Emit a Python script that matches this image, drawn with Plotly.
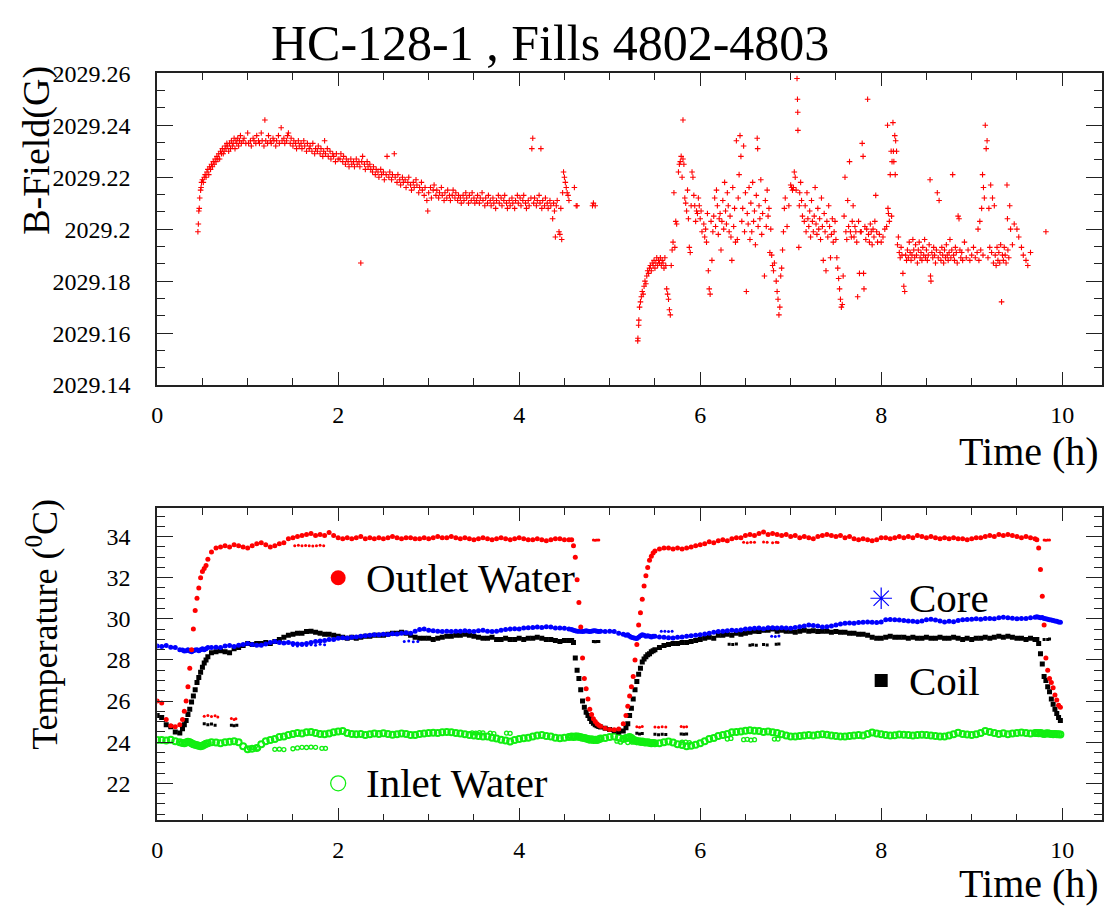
import plotly.graph_objects as go

# ---------------- B-field data (time in h, field in G) ----------------
bfield_samples = [
    (0.45, 2029.199), (0.455, 2029.202), (0.46, 2029.207), (0.465, 2029.208), (0.47, 2029.212),
    (0.48, 2029.215), (0.485, 2029.216), (0.49, 2029.218), (0.50, 2029.219), (0.51, 2029.218),
    (0.52, 2029.220), (0.53, 2029.221), (0.54, 2029.220), (0.55, 2029.222), (0.56, 2029.223),
    (0.57, 2029.221), (0.58, 2029.224), (0.59, 2029.223), (0.60, 2029.225), (0.61, 2029.224),
    (0.62, 2029.226), (0.63, 2029.225), (0.64, 2029.227), (0.65, 2029.226), (0.66, 2029.228),
    (0.67, 2029.227), (0.68, 2029.229), (0.69, 2029.227), (0.70, 2029.230), (0.71, 2029.229),
    (0.72, 2029.231), (0.73, 2029.229), (0.74, 2029.230), (0.75, 2029.232), (0.76, 2029.231),
    (0.77, 2029.233), (0.78, 2029.232), (0.79, 2029.230), (0.80, 2029.233), (0.81, 2029.231),
    (0.82, 2029.234), (0.83, 2029.232), (0.84, 2029.233), (0.85, 2029.235), (0.86, 2029.231),
    (0.87, 2029.234), (0.88, 2029.233), (0.89, 2029.235), (0.90, 2029.232), (0.91, 2029.234),
    (0.92, 2029.236), (0.93, 2029.233), (0.95, 2029.234), (0.96, 2029.235), (0.98, 2029.233),
    (1.00, 2029.237), (1.01, 2029.233), (1.03, 2029.234), (1.04, 2029.232), (1.06, 2029.235),
    (1.07, 2029.234), (1.09, 2029.233), (1.10, 2029.236), (1.12, 2029.234), (1.13, 2029.233),
    (1.15, 2029.237), (1.16, 2029.234), (1.18, 2029.232), (1.19, 2029.242), (1.20, 2029.234),
    (1.22, 2029.233), (1.23, 2029.236), (1.25, 2029.234), (1.26, 2029.233), (1.28, 2029.235),
    (1.29, 2029.234), (1.31, 2029.232), (1.32, 2029.234), (1.34, 2029.236), (1.35, 2029.233),
    (1.37, 2029.239), (1.38, 2029.234), (1.40, 2029.235), (1.41, 2029.233), (1.43, 2029.234),
    (1.44, 2029.236), (1.45, 2029.237), (1.47, 2029.233), (1.48, 2029.235), (1.50, 2029.232),
    (1.51, 2029.234), (1.53, 2029.233), (1.54, 2029.231), (1.56, 2029.234), (1.57, 2029.232),
    (1.59, 2029.233), (1.60, 2029.231), (1.62, 2029.234), (1.63, 2029.232), (1.65, 2029.230),
    (1.66, 2029.233), (1.68, 2029.231), (1.69, 2029.232), (1.71, 2029.230), (1.72, 2029.233),
    (1.74, 2029.229), (1.75, 2029.231), (1.77, 2029.230), (1.78, 2029.232), (1.80, 2029.229),
    (1.81, 2029.231), (1.83, 2029.228), (1.84, 2029.230), (1.85, 2029.234), (1.86, 2029.229),
    (1.88, 2029.231), (1.89, 2029.228), (1.91, 2029.230), (1.92, 2029.227), (1.94, 2029.229),
    (1.95, 2029.228), (1.97, 2029.226), (1.98, 2029.229), (2.00, 2029.227), (2.02, 2029.227),
    (2.03, 2029.229), (2.05, 2029.226), (2.06, 2029.228), (2.08, 2029.225), (2.09, 2029.227),
    (2.11, 2029.226), (2.12, 2029.224), (2.14, 2029.227), (2.15, 2029.225), (2.17, 2029.226),
    (2.18, 2029.224), (2.20, 2029.227), (2.21, 2029.225), (2.23, 2029.226), (2.24, 2029.224),
    (2.25, 2029.187), (2.26, 2029.226), (2.27, 2029.228), (2.29, 2029.225), (2.30, 2029.223),
    (2.32, 2029.226), (2.33, 2029.224), (2.35, 2029.225), (2.36, 2029.223), (2.38, 2029.222),
    (2.39, 2029.224), (2.41, 2029.221), (2.42, 2029.223), (2.44, 2029.222), (2.45, 2029.220),
    (2.47, 2029.223), (2.48, 2029.221), (2.50, 2029.222), (2.51, 2029.219), (2.53, 2029.221),
    (2.54, 2029.228), (2.56, 2029.220), (2.57, 2029.222), (2.59, 2029.219), (2.60, 2029.221),
    (2.62, 2029.229), (2.63, 2029.220), (2.65, 2029.218), (2.66, 2029.221), (2.68, 2029.219),
    (2.69, 2029.217), (2.71, 2029.220), (2.72, 2029.218), (2.74, 2029.219), (2.75, 2029.216),
    (2.77, 2029.218), (2.78, 2029.220), (2.80, 2029.217), (2.81, 2029.215), (2.83, 2029.218),
    (2.84, 2029.216), (2.86, 2029.219), (2.87, 2029.217), (2.89, 2029.214), (2.90, 2029.216),
    (2.92, 2029.218), (2.93, 2029.215), (2.95, 2029.213), (2.96, 2029.216), (2.98, 2029.211),
    (2.99, 2029.207), (3.00, 2029.214), (3.02, 2029.216), (3.03, 2029.212), (3.05, 2029.215),
    (3.06, 2029.217), (3.08, 2029.213), (3.09, 2029.215), (3.11, 2029.212), (3.12, 2029.214),
    (3.14, 2029.216), (3.15, 2029.213), (3.17, 2029.211), (3.18, 2029.214), (3.20, 2029.212),
    (3.21, 2029.215), (3.23, 2029.213), (3.24, 2029.211), (3.26, 2029.213), (3.27, 2029.215),
    (3.29, 2029.212), (3.30, 2029.214), (3.32, 2029.211), (3.33, 2029.213), (3.35, 2029.212),
    (3.36, 2029.210), (3.38, 2029.213), (3.39, 2029.211), (3.41, 2029.214), (3.42, 2029.212),
    (3.44, 2029.210), (3.45, 2029.213), (3.47, 2029.211), (3.48, 2029.214), (3.50, 2029.212),
    (3.51, 2029.210), (3.53, 2029.211), (3.54, 2029.213), (3.56, 2029.210), (3.57, 2029.212),
    (3.59, 2029.214), (3.60, 2029.211), (3.62, 2029.209), (3.63, 2029.212), (3.65, 2029.210),
    (3.66, 2029.213), (3.68, 2029.211), (3.69, 2029.209), (3.71, 2029.212), (3.72, 2029.210),
    (3.74, 2029.208), (3.75, 2029.211), (3.77, 2029.213), (3.78, 2029.210), (3.80, 2029.212),
    (3.81, 2029.209), (3.83, 2029.211), (3.84, 2029.213), (3.86, 2029.210), (3.87, 2029.208),
    (3.89, 2029.211), (3.90, 2029.209), (3.92, 2029.212), (3.93, 2029.210), (3.95, 2029.208),
    (3.96, 2029.211), (3.98, 2029.213), (3.99, 2029.210), (4.01, 2029.212), (4.02, 2029.209),
    (4.04, 2029.211), (4.05, 2029.213), (4.07, 2029.210), (4.08, 2029.208), (4.10, 2029.211),
    (4.11, 2029.209), (4.13, 2029.212), (4.14, 2029.231), (4.15, 2029.235), (4.16, 2029.210),
    (4.17, 2029.212), (4.19, 2029.209), (4.20, 2029.211), (4.22, 2029.213), (4.23, 2029.210),
    (4.24, 2029.231), (4.25, 2029.208), (4.26, 2029.211), (4.28, 2029.209), (4.29, 2029.212),
    (4.31, 2029.210), (4.32, 2029.208), (4.34, 2029.211), (4.35, 2029.209), (4.37, 2029.204),
    (4.38, 2029.210), (4.39, 2029.207), (4.40, 2029.197), (4.41, 2029.209), (4.42, 2029.211),
    (4.44, 2029.199), (4.45, 2029.198), (4.46, 2029.208), (4.47, 2029.196), (4.48, 2029.214),
    (4.49, 2029.222), (4.50, 2029.220), (4.51, 2029.218), (4.52, 2029.216), (4.53, 2029.214),
    (4.54, 2029.213), (4.55, 2029.211), (4.61, 2029.216), (4.63, 2029.209), (4.64, 2029.209),
    (4.81, 2029.209), (4.82, 2029.210), (4.84, 2029.209),
    (5.31, 2029.157), (5.312, 2029.158), (5.32, 2029.163), (5.322, 2029.165), (5.33, 2029.170),
    (5.34, 2029.172), (5.35, 2029.174), (5.36, 2029.176), (5.37, 2029.175), (5.38, 2029.178),
    (5.39, 2029.180), (5.40, 2029.179), (5.41, 2029.182), (5.42, 2029.184), (5.43, 2029.183),
    (5.44, 2029.185), (5.45, 2029.186), (5.46, 2029.184), (5.47, 2029.187), (5.48, 2029.186),
    (5.49, 2029.188), (5.50, 2029.185), (5.51, 2029.187), (5.52, 2029.189), (5.53, 2029.186),
    (5.54, 2029.188), (5.55, 2029.187), (5.56, 2029.189), (5.57, 2029.186), (5.58, 2029.188),
    (5.59, 2029.187), (5.60, 2029.185), (5.61, 2029.189), (5.62, 2029.186), (5.63, 2029.177),
    (5.64, 2029.175), (5.65, 2029.173), (5.66, 2029.169), (5.67, 2029.167), (5.68, 2029.186),
    (5.69, 2029.192), (5.70, 2029.195), (5.71, 2029.214), (5.72, 2029.193), (5.73, 2029.203),
    (5.74, 2029.202), (5.76, 2029.222), (5.77, 2029.225), (5.78, 2029.226), (5.79, 2029.228),
    (5.80, 2029.220), (5.81, 2029.242), (5.81, 2029.227), (5.82, 2029.225), (5.83, 2029.212),
    (5.84, 2029.210), (5.85, 2029.207), (5.86, 2029.215), (5.87, 2029.204), (5.88, 2029.193),
    (5.89, 2029.191), (5.90, 2029.209), (5.91, 2029.222), (5.92, 2029.220), (5.93, 2029.213),
    (5.94, 2029.209), (5.95, 2029.203), (5.96, 2029.207), (5.97, 2029.206), (5.98, 2029.212),
    (5.99, 2029.209),
    (6.00, 2029.204), (6.01, 2029.207), (6.02, 2029.199), (6.04, 2029.202), (6.05, 2029.197),
    (6.06, 2029.200), (6.07, 2029.195), (6.08, 2029.206), (6.09, 2029.184), (6.10, 2029.177),
    (6.11, 2029.175), (6.12, 2029.203), (6.13, 2029.188), (6.14, 2029.199), (6.15, 2029.205),
    (6.16, 2029.212), (6.17, 2029.201), (6.18, 2029.215), (6.19, 2029.209), (6.20, 2029.198),
    (6.21, 2029.204), (6.22, 2029.206), (6.23, 2029.192), (6.24, 2029.203), (6.25, 2029.211),
    (6.26, 2029.200), (6.27, 2029.218), (6.28, 2029.207), (6.29, 2029.202), (6.30, 2029.214),
    (6.31, 2029.209), (6.32, 2029.199), (6.33, 2029.205), (6.34, 2029.197), (6.35, 2029.188),
    (6.36, 2029.216), (6.37, 2029.201), (6.38, 2029.208), (6.39, 2029.195), (6.40, 2029.234),
    (6.41, 2029.196), (6.42, 2029.212), (6.43, 2029.221), (6.44, 2029.236), (6.45, 2029.228),
    (6.46, 2029.203), (6.47, 2029.208), (6.48, 2029.232), (6.49, 2029.199), (6.50, 2029.214),
    (6.51, 2029.176), (6.52, 2029.206), (6.53, 2029.202), (6.54, 2029.216), (6.55, 2029.196),
    (6.56, 2029.210), (6.57, 2029.199), (6.58, 2029.218), (6.59, 2029.203), (6.60, 2029.207),
    (6.61, 2029.194), (6.62, 2029.213), (6.63, 2029.235), (6.635, 2029.231), (6.64, 2029.201),
    (6.65, 2029.209), (6.66, 2029.204), (6.67, 2029.219), (6.68, 2029.198), (6.69, 2029.206),
    (6.71, 2029.182), (6.72, 2029.211), (6.73, 2029.201), (6.74, 2029.215), (6.75, 2029.205),
    (6.76, 2029.208), (6.77, 2029.191), (6.78, 2029.200), (6.79, 2029.190), (6.80, 2029.186),
    (6.81, 2029.184), (6.82, 2029.187), (6.84, 2029.180), (6.85, 2029.176), (6.86, 2029.173),
    (6.87, 2029.167), (6.88, 2029.170), (6.89, 2029.182), (6.90, 2029.185), (6.91, 2029.192),
    (6.92, 2029.199), (6.93, 2029.208), (6.94, 2029.212), (6.96, 2029.201), (6.98, 2029.209),
    (7.00, 2029.217), (7.01, 2029.216), (7.02, 2029.215), (7.03, 2029.216), (7.04, 2029.222),
    (7.05, 2029.220), (7.06, 2029.215), (7.07, 2029.258), (7.075, 2029.250), (7.078, 2029.245),
    (7.08, 2029.238), (7.09, 2029.193), (7.095, 2029.209), (7.10, 2029.214), (7.11, 2029.218),
    (7.12, 2029.211), (7.13, 2029.205), (7.15, 2029.203), (7.16, 2029.209), (7.17, 2029.199),
    (7.18, 2029.214), (7.19, 2029.204), (7.20, 2029.201), (7.21, 2029.207), (7.22, 2029.197),
    (7.23, 2029.211), (7.24, 2029.203), (7.25, 2029.199), (7.26, 2029.205), (7.27, 2029.216),
    (7.28, 2029.202), (7.29, 2029.198), (7.30, 2029.208), (7.31, 2029.200), (7.32, 2029.204),
    (7.33, 2029.196), (7.34, 2029.212), (7.35, 2029.201), (7.36, 2029.188), (7.37, 2029.206),
    (7.38, 2029.199), (7.39, 2029.184), (7.40, 2029.203), (7.41, 2029.197), (7.42, 2029.209),
    (7.43, 2029.201), (7.44, 2029.189), (7.45, 2029.198), (7.46, 2029.204), (7.47, 2029.195),
    (7.48, 2029.199), (7.49, 2029.203), (7.50, 2029.196), (7.51, 2029.189), (7.52, 2029.185),
    (7.53, 2029.181), (7.54, 2029.177), (7.55, 2029.173), (7.56, 2029.170), (7.57, 2029.171),
    (7.58, 2029.182), (7.59, 2029.205), (7.60, 2029.220), (7.61, 2029.199), (7.62, 2029.196),
    (7.63, 2029.211), (7.64, 2029.201), (7.65, 2029.226), (7.66, 2029.199), (7.67, 2029.197),
    (7.68, 2029.203), (7.69, 2029.209), (7.70, 2029.197), (7.71, 2029.201), (7.72, 2029.199),
    (7.73, 2029.195), (7.74, 2029.174), (7.75, 2029.203), (7.76, 2029.183), (7.77, 2029.199),
    (7.78, 2029.199), (7.79, 2029.233), (7.80, 2029.228), (7.805, 2029.183), (7.81, 2029.177),
    (7.82, 2029.201), (7.83, 2029.196), (7.84, 2029.200), (7.85, 2029.250), (7.86, 2029.198),
    (7.87, 2029.195), (7.88, 2029.202), (7.89, 2029.199), (7.90, 2029.194), (7.91, 2029.200),
    (7.92, 2029.197), (7.93, 2029.203), (7.94, 2029.213), (7.95, 2029.199), (7.96, 2029.195),
    (7.98, 2029.198), (8.00, 2029.195), (8.02, 2029.197), (8.04, 2029.200), (8.06, 2029.201),
    (8.07, 2029.240), (8.075, 2029.208), (8.08, 2029.206), (8.09, 2029.203), (8.10, 2029.221),
    (8.11, 2029.230), (8.115, 2029.205), (8.12, 2029.226), (8.13, 2029.241), (8.135, 2029.230),
    (8.14, 2029.226), (8.15, 2029.236), (8.155, 2029.221), (8.16, 2029.234), (8.17, 2029.230),
    (8.18, 2029.194), (8.19, 2029.197), (8.20, 2029.191), (8.21, 2029.189), (8.22, 2029.193),
    (8.23, 2029.190), (8.24, 2029.183), (8.25, 2029.178), (8.26, 2029.176), (8.27, 2029.190),
    (8.28, 2029.188), (8.29, 2029.192), (8.30, 2029.189), (8.31, 2029.195), (8.32, 2029.191),
    (8.33, 2029.188), (8.34, 2029.190), (8.35, 2029.196), (8.36, 2029.192), (8.37, 2029.189),
    (8.38, 2029.194), (8.39, 2029.190), (8.40, 2029.187), (8.41, 2029.192), (8.42, 2029.195),
    (8.43, 2029.189), (8.44, 2029.191), (8.45, 2029.188), (8.46, 2029.193), (8.47, 2029.190),
    (8.48, 2029.196), (8.49, 2029.189), (8.50, 2029.192), (8.51, 2029.188), (8.52, 2029.190),
    (8.53, 2029.194), (8.54, 2029.219), (8.545, 2029.182), (8.55, 2029.180), (8.56, 2029.191),
    (8.57, 2029.189), (8.58, 2029.193), (8.59, 2029.190), (8.60, 2029.187), (8.61, 2029.192),
    (8.62, 2029.214), (8.63, 2029.189), (8.64, 2029.211), (8.65, 2029.191), (8.66, 2029.188),
    (8.67, 2029.193), (8.68, 2029.190), (8.69, 2029.187), (8.70, 2029.192), (8.71, 2029.189),
    (8.72, 2029.194), (8.73, 2029.190), (8.74, 2029.188), (8.75, 2029.191), (8.76, 2029.196),
    (8.77, 2029.189), (8.78, 2029.192), (8.79, 2029.221), (8.80, 2029.190), (8.81, 2029.188),
    (8.82, 2029.193), (8.83, 2029.191), (8.84, 2029.187), (8.85, 2029.205), (8.86, 2029.204),
    (8.87, 2029.192), (8.88, 2029.189), (8.89, 2029.191), (8.90, 2029.188), (8.92, 2029.195),
    (8.94, 2029.189), (8.96, 2029.192), (8.98, 2029.188), (9.00, 2029.190), (9.02, 2029.193),
    (9.04, 2029.189), (9.06, 2029.191), (9.07, 2029.200), (9.08, 2029.188), (9.09, 2029.203),
    (9.10, 2029.192), (9.11, 2029.208), (9.12, 2029.221), (9.125, 2029.190), (9.13, 2029.216),
    (9.14, 2029.212), (9.15, 2029.240), (9.16, 2029.231), (9.17, 2029.234), (9.18, 2029.189),
    (9.19, 2029.208), (9.20, 2029.193), (9.21, 2029.217), (9.22, 2029.191), (9.23, 2029.212),
    (9.24, 2029.187), (9.25, 2029.209), (9.26, 2029.190), (9.27, 2029.186), (9.28, 2029.193),
    (9.29, 2029.188), (9.30, 2029.191), (9.31, 2029.187), (9.32, 2029.194), (9.33, 2029.172),
    (9.34, 2029.190), (9.35, 2029.188), (9.36, 2029.193), (9.37, 2029.190), (9.38, 2029.187),
    (9.39, 2029.217), (9.395, 2029.204), (9.40, 2029.192), (9.41, 2029.189), (9.42, 2029.209),
    (9.43, 2029.200), (9.45, 2029.194), (9.47, 2029.202), (9.50, 2029.200), (9.52, 2029.197),
    (9.55, 2029.193), (9.57, 2029.190), (9.60, 2029.188), (9.62, 2029.186), (9.65, 2029.191),
    (9.82, 2029.199),
]
bfield_time = [s[0] for s in bfield_samples]
bfield_gauss = [s[1] for s in bfield_samples]

# ---------------- Temperature data (shared sampling times, h) ----------------
temp_time = [
    0.00, 0.05, 0.10, 0.15, 0.20, 0.25,
    0.28, 0.30, 0.32, 0.34, 0.36, 0.38, 0.40, 0.42, 0.44, 0.46, 0.48, 0.50, 0.52, 0.54, 0.56,
    0.60, 0.65, 0.70, 0.75, 0.80, 0.85, 0.90, 0.95,
    1.00, 1.05, 1.10, 1.15, 1.20, 1.25, 1.30, 1.35, 1.40, 1.45, 1.50, 1.55, 1.60, 1.65, 1.70, 1.75, 1.80, 1.85, 1.90, 1.95,
    2.00, 2.05, 2.10, 2.15, 2.20, 2.25, 2.30, 2.35, 2.40, 2.45, 2.50, 2.55, 2.60, 2.65, 2.70, 2.75, 2.80, 2.85, 2.90, 2.95,
    3.00, 3.05, 3.10, 3.15, 3.20, 3.25, 3.30, 3.35, 3.40, 3.45, 3.50, 3.55, 3.60, 3.65, 3.70, 3.75, 3.80, 3.85, 3.90, 3.95,
    4.00, 4.05, 4.10, 4.15, 4.20, 4.25, 4.30, 4.35, 4.40, 4.45, 4.50, 4.55,
    4.58, 4.60, 4.62, 4.64, 4.66, 4.68, 4.70, 4.72, 4.74, 4.76, 4.78, 4.80, 4.82, 4.84, 4.86, 4.88, 4.90,
    4.95, 5.00, 5.05, 5.10, 5.15,
    5.18, 5.20, 5.22, 5.24, 5.26, 5.28, 5.30, 5.32, 5.34, 5.36, 5.38, 5.40, 5.42, 5.44, 5.46, 5.48, 5.50,
    5.55, 5.60, 5.65, 5.70, 5.75, 5.80, 5.85, 5.90, 5.95,
    6.00, 6.05, 6.10, 6.15, 6.20, 6.25, 6.30, 6.35, 6.40, 6.45, 6.50, 6.55, 6.60, 6.65, 6.70, 6.75, 6.80, 6.85, 6.90, 6.95,
    7.00, 7.05, 7.10, 7.15, 7.20, 7.25, 7.30, 7.35, 7.40, 7.45, 7.50, 7.55, 7.60, 7.65, 7.70, 7.75, 7.80, 7.85, 7.90, 7.95,
    8.00, 8.05, 8.10, 8.15, 8.20, 8.25, 8.30, 8.35, 8.40, 8.45, 8.50, 8.55, 8.60, 8.65, 8.70, 8.75, 8.80, 8.85, 8.90, 8.95,
    9.00, 9.05, 9.10, 9.15, 9.20, 9.25, 9.30, 9.35, 9.40, 9.45, 9.50, 9.55, 9.60, 9.65, 9.70,
    9.72, 9.74, 9.76, 9.78, 9.80, 9.82, 9.84, 9.86, 9.88, 9.90, 9.92, 9.94, 9.96, 9.98,
]

outlet_water = [
    26.0, 25.9, 25.1, 24.8, 24.75, 24.85,
    25.1, 25.5, 26.0, 26.7, 27.6, 28.5, 29.5, 30.4, 31.0, 31.5, 32.0, 32.3, 32.45, 32.6, 32.9,
    33.25, 33.45, 33.5, 33.55, 33.5, 33.6, 33.55, 33.5,
    33.45, 33.55, 33.65, 33.7, 33.6, 33.5, 33.55, 33.65, 33.7, 33.9, 33.95, 34.0, 34.05, 34.1, 34.15, 34.05, 34.1, 34.05, 34.2, 34.05,
    33.95, 33.9, 33.95, 33.9, 33.95, 34.0, 33.9, 33.95, 33.9, 33.95, 33.9, 33.95, 34.0, 33.95, 33.9, 33.95, 33.95, 33.9, 33.9, 33.95,
    33.9, 33.95, 34.0, 33.95, 33.95, 34.0, 33.95, 33.9, 33.95, 33.9, 33.85, 33.9, 33.95, 33.9, 33.85, 33.9, 33.95, 33.9, 33.85, 33.9,
    33.95, 33.9, 33.85, 33.85, 33.9, 33.85, 33.8, 33.85, 33.9, 33.9, 33.85, 33.85,
    33.85, 33.55, 33.0, 31.9, 30.8, 29.6, 28.1, 27.1, 26.6, 26.1, 25.6, 25.35, 25.14, 25.0, 24.9, 24.82, 24.78,
    24.68, 24.62, 24.6, 24.64, 24.9,
    25.3, 25.75, 26.25, 26.7, 27.2, 28.0, 28.75, 29.7, 30.3, 30.95, 31.6, 32.1, 32.5, 32.85, 33.05, 33.2, 33.3,
    33.4, 33.45, 33.45, 33.4, 33.45, 33.4, 33.45, 33.5, 33.55,
    33.6, 33.65, 33.75, 33.7, 33.8, 33.85, 33.8, 33.9, 33.95, 33.95, 34.05, 34.1, 34.05, 34.15, 34.22, 34.1, 34.15, 34.1, 34.05, 34.1,
    34.0, 34.05, 33.95, 34.0, 33.95, 33.9, 34.0, 34.05, 34.1, 34.05, 34.0, 34.05, 33.95, 34.0, 33.9, 33.85, 33.9, 33.85, 33.8, 33.85,
    33.95, 33.95, 33.9, 33.95, 34.0, 33.95, 34.0, 33.95, 34.05, 34.0, 33.95, 34.0, 33.95, 33.9, 33.95, 33.9, 33.95, 33.9, 33.9, 33.85,
    33.9, 33.95, 33.95, 34.0, 34.05, 34.0, 34.1, 34.05, 34.1, 34.05, 34.0, 33.95, 34.0, 33.95, 33.9,
    33.85, 33.45, 32.4, 31.1, 29.7, 28.1, 27.5, 27.1, 26.9, 26.65, 26.3, 26.05, 25.8, 25.7,
]

coil = [
    25.3, 25.2, 24.85, 24.75, 24.5, 24.45,
    24.65, 24.85, 25.06, 25.35, 25.6, 25.95, 26.25, 26.55, 26.9, 27.15, 27.4, 27.65, 27.85, 28.0, 28.15,
    28.35, 28.4, 28.45, 28.4, 28.35, 28.55, 28.6, 28.7,
    28.8, 28.75, 28.8, 28.8, 28.85, 28.8, 28.9, 29.0, 29.1, 29.2, 29.25, 29.3, 29.3, 29.38, 29.4, 29.35, 29.3, 29.25, 29.25, 29.2,
    29.15, 29.1, 29.05, 29.1, 29.05, 29.1, 29.15, 29.15, 29.2, 29.2, 29.2, 29.25, 29.3, 29.3, 29.35, 29.3, 29.2, 29.1, 29.05, 29.05,
    29.05, 29.0, 29.05, 29.1, 29.15, 29.15, 29.2, 29.2, 29.25, 29.2, 29.15, 29.1, 29.05, 29.05, 29.1, 29.0, 29.0, 29.05, 29.0, 29.0,
    29.05, 29.0, 29.05, 29.05, 29.1, 29.05, 29.0, 29.0, 28.95, 28.9, 28.95, 28.95,
    28.95, 28.85, 28.1, 27.5, 27.1, 26.55, 26.0, 25.7, 25.45, 25.3, 25.15, 25.0, 24.92, 24.85, 24.8, 24.76, 24.74,
    24.68, 24.62, 24.56, 24.5, 24.54,
    24.7, 24.9, 25.3, 25.65, 26.1, 26.55, 26.95, 27.3, 27.6, 27.9, 28.05, 28.15, 28.25, 28.3, 28.4, 28.45, 28.5,
    28.6, 28.7, 28.75, 28.8, 28.8, 28.85, 28.85, 28.9, 28.95,
    29.0, 29.05, 29.1, 29.05, 29.2, 29.2, 29.25, 29.2, 29.3, 29.25, 29.3, 29.35, 29.4, 29.38, 29.45, 29.45, 29.5, 29.4, 29.45, 29.4,
    29.4, 29.35, 29.4, 29.45, 29.4, 29.42, 29.38, 29.4, 29.4, 29.35, 29.38, 29.35, 29.35, 29.3, 29.3, 29.25, 29.25, 29.2, 29.1, 29.05,
    29.05, 29.1, 29.15, 29.1, 29.1, 29.1, 29.05, 29.1, 29.05, 29.05, 29.1, 29.05, 29.05, 29.1, 29.05, 29.05, 29.1, 29.05, 29.0, 29.05,
    29.0, 29.05, 29.05, 29.1, 29.05, 29.1, 29.15, 29.1, 29.15, 29.1, 29.05, 29.05, 29.0, 29.05, 29.0,
    29.0, 28.8, 28.3, 27.8, 27.2, 27.0, 26.7, 26.45, 26.1, 25.85, 25.6, 25.4, 25.2, 25.05,
]

core = [
    28.68, 28.65, 28.7, 28.62, 28.6, 28.5,
    28.48, 28.44, 28.45, 28.5, 28.44, 28.4, 28.45, 28.48, 28.5, 28.45, 28.5, 28.55, 28.5, 28.55, 28.6,
    28.6, 28.62, 28.6, 28.68, 28.7, 28.65, 28.72, 28.75,
    28.8, 28.75, 28.72, 28.72, 28.78, 28.85, 28.9, 28.85, 28.82, 28.85, 28.8, 28.78, 28.76, 28.8, 28.85, 28.9, 28.92, 28.95, 29.0, 29.0,
    29.05, 29.08, 29.07, 29.1, 29.12, 29.15, 29.18, 29.2, 29.22, 29.23, 29.25, 29.24, 29.27, 29.26, 29.3, 29.32, 29.3, 29.4, 29.48, 29.5,
    29.45, 29.42, 29.4, 29.38, 29.4, 29.38, 29.4, 29.39, 29.42, 29.4, 29.38, 29.42, 29.44, 29.4, 29.38, 29.4, 29.45, 29.48, 29.5, 29.52,
    29.5, 29.55, 29.56, 29.58, 29.6, 29.58, 29.62, 29.6, 29.55, 29.55, 29.54, 29.5,
    29.48, 29.45, 29.42, 29.4, 29.39, 29.4, 29.38, 29.4, 29.42, 29.4, 29.38, 29.4, 29.42, 29.42, 29.4, 29.38, 29.4,
    29.38, 29.4, 29.38, 29.3, 29.25,
    29.2, 29.22, 29.15, 29.1, 29.08, 29.05, 29.04, 29.1, 29.18, 29.22, 29.2, 29.15, 29.18, 29.15, 29.12, 29.15, 29.15,
    29.12, 29.1, 29.08, 29.07, 29.1, 29.12, 29.15, 29.18, 29.2,
    29.22, 29.26, 29.3, 29.35, 29.38, 29.4, 29.42, 29.45, 29.43, 29.46, 29.5, 29.52, 29.54, 29.55, 29.52, 29.56, 29.57, 29.55, 29.56, 29.55,
    29.54, 29.58, 29.62, 29.65, 29.7, 29.68, 29.65, 29.6, 29.62, 29.65, 29.7, 29.75, 29.78, 29.8, 29.78, 29.82, 29.83, 29.85, 29.83, 29.82,
    29.84, 29.95, 29.97, 29.96, 29.94, 29.92, 29.9, 29.88, 29.86, 29.9, 29.95, 29.98, 29.94, 29.9, 29.85, 29.88, 29.86, 29.92, 29.95, 29.97,
    29.98, 30.0, 29.98, 30.02, 30.02, 30.0, 30.05, 30.08, 30.05, 30.03, 30.0, 30.02, 30.02, 30.05, 30.08,
    30.1, 30.08, 30.05, 30.06, 30.02, 30.0, 29.98, 29.96, 29.94, 29.92, 29.9, 29.88, 29.85, 29.83,
]

inlet_water = [
    24.11, 24.1, 24.08, 24.12, 24.05, 24.0,
    23.96, 23.95, 23.98, 24.02, 24.0, 23.95, 23.9, 23.88, 23.85, 23.82, 23.8, 23.82, 23.88, 23.92, 23.95,
    24.0, 23.98, 23.95, 24.0, 24.02, 24.05, 24.0, 23.8,
    23.66, 23.68, 23.72, 23.9, 24.05, 24.1, 24.15, 24.25, 24.27, 24.35, 24.4, 24.45, 24.42, 24.48, 24.5, 24.45, 24.4, 24.38, 24.42, 24.48,
    24.52, 24.54, 24.45, 24.4, 24.38, 24.4, 24.35, 24.38, 24.42, 24.4, 24.43, 24.4, 24.36, 24.38, 24.42, 24.4, 24.35, 24.35, 24.4, 24.42,
    24.45, 24.46, 24.44, 24.48, 24.5, 24.48, 24.45, 24.42, 24.38, 24.35, 24.32, 24.3, 24.28, 24.27, 24.22, 24.18, 24.12, 24.08, 24.03, 24.1,
    24.15, 24.19, 24.22, 24.28, 24.33, 24.35, 24.3, 24.27, 24.22, 24.19, 24.22, 24.25,
    24.27, 24.25, 24.27, 24.28, 24.26, 24.24, 24.22, 24.2, 24.18, 24.15, 24.12, 24.14, 24.1, 24.12, 24.11, 24.14, 24.18,
    24.2, 24.25, 24.27, 24.22, 24.15,
    24.2, 24.22, 24.25, 24.2, 24.12, 24.08, 24.05, 24.04, 24.02, 24.03, 24.0, 23.98, 24.0, 23.97, 23.95, 23.96, 23.95,
    23.95, 24.0, 24.03, 23.98, 23.9, 23.86, 23.8, 23.82, 23.88,
    23.95, 24.05, 24.15, 24.2, 24.3, 24.35, 24.4, 24.48, 24.5, 24.52, 24.56, 24.58, 24.55, 24.54, 24.5, 24.52, 24.48, 24.45, 24.38, 24.32,
    24.28, 24.27, 24.3, 24.33, 24.35, 24.32, 24.36, 24.38, 24.36, 24.33, 24.3, 24.28, 24.27, 24.3, 24.33, 24.35, 24.33, 24.4, 24.47, 24.42,
    24.38, 24.35, 24.32, 24.34, 24.37, 24.36, 24.35, 24.33, 24.35, 24.36, 24.35, 24.32, 24.3, 24.28, 24.27, 24.32, 24.38, 24.46, 24.4, 24.37,
    24.35, 24.38, 24.45, 24.54, 24.5, 24.45, 24.4, 24.43, 24.38, 24.42, 24.45, 24.47, 24.44, 24.42, 24.44,
    24.45, 24.43, 24.44, 24.42, 24.4, 24.42, 24.43, 24.41, 24.4, 24.39, 24.4, 24.38, 24.38, 24.37,
]

# secondary (duplicate-channel) readings seen as short dashed runs
outlet_extra_time = [0.52, 0.56, 0.60, 0.64, 0.67, 0.82, 0.85, 0.87,
                     1.52, 1.56, 1.60, 1.64, 1.68, 1.72, 1.76, 1.80, 1.84,
                     4.82, 4.84, 4.86, 4.88,
                     5.30, 5.33, 5.36, 5.50, 5.54, 5.58, 5.62, 5.79, 5.82, 5.85,
                     6.48, 6.52, 6.56, 6.60, 6.70, 6.74, 6.80, 6.84, 6.86,
                     9.80, 9.82, 9.84, 9.86]
outlet_extra_temp = [25.26, 25.3, 25.25, 25.28, 25.22, 25.15, 25.1, 25.14,
                     33.56, 33.58, 33.55, 33.57, 33.56, 33.54, 33.56, 33.58, 33.55,
                     33.83, 33.82, 33.84, 33.83,
                     24.75, 24.73, 24.76, 24.74, 24.72, 24.75, 24.74, 24.76, 24.74, 24.75,
                     33.72, 33.7, 33.73, 33.72, 33.74, 33.72, 33.7, 33.72, 33.71,
                     33.83, 33.82, 33.84, 33.83]
coil_extra_time = [0.52, 0.56, 0.60, 0.64, 0.82, 0.85, 0.88,
                   4.82, 4.84, 4.86, 4.88,
                   5.30, 5.33, 5.36, 5.50, 5.54, 5.58, 5.62, 5.79, 5.82, 5.85,
                   6.32, 6.36, 6.40, 6.55, 6.58, 6.62, 6.70, 6.74, 6.84, 6.87,
                   9.80, 9.84, 9.86]
coil_extra_temp = [24.9, 24.85, 24.88, 24.82, 24.82, 24.8, 24.82,
                   28.9, 28.88, 28.9, 28.9,
                   24.43, 24.4, 24.42, 24.38, 24.36, 24.38, 24.37, 24.4, 24.38, 24.4,
                   28.76, 28.75, 28.78, 28.72, 28.74, 28.72, 28.75, 28.73, 28.76, 28.78,
                   29.0, 29.0, 29.02]
core_extra_time = [1.50, 1.55, 1.60, 1.65, 1.70, 1.75, 1.80, 1.85,
                   2.73, 2.78, 2.83, 2.88,
                   5.57, 5.61, 5.65, 5.69,
                   6.79, 6.83, 6.87]
core_extra_temp = [28.7, 28.68, 28.72, 28.7, 28.74, 28.72, 28.76, 28.74,
                   28.9, 28.92, 28.88, 28.9,
                   29.39, 29.4, 29.38, 29.4,
                   29.15, 29.14, 29.16]
inlet_extra_time = [1.02, 1.07, 1.12, 1.30, 1.35, 1.40, 1.50, 1.55, 1.60, 1.65, 1.70, 1.75, 1.82, 1.86,
                    3.48, 3.52, 3.56, 3.60, 3.68, 3.72, 3.86, 3.90,
                    5.08, 5.12, 5.20, 5.25, 5.30, 5.35, 5.45, 5.50, 5.80, 5.84, 5.88,
                    6.30, 6.34, 6.48, 6.52, 6.56, 6.60, 6.82, 6.86]
inlet_extra_temp = [23.7, 23.72, 23.7, 23.65, 23.66, 23.64, 23.68, 23.72, 23.75, 23.74, 23.76, 23.75, 23.7, 23.7,
                    24.45, 24.44, 24.46, 24.45, 24.44, 24.42, 24.44, 24.43,
                    24.05, 24.0, 23.98, 24.0, 23.98, 23.95, 23.9, 23.9, 24.0, 24.0, 23.98,
                    24.15, 24.18, 24.12, 24.14, 24.1, 24.12, 24.15, 24.15]

# legend entries: label, marker position (h, degC)
legend_labels = ["Outlet Water", "Core", "Coil", "Inlet Water"]
legend_x = [2.0, 8.0, 8.0, 2.0]
legend_y = [32.0, 31.0, 27.0, 22.0]

for name, arr in [("outlet", outlet_water), ("coil", coil), ("core", core), ("inlet", inlet_water)]:
    if len(arr) != len(temp_time):
        raise ValueError(f"{name}: {len(arr)} vs {len(temp_time)}")

RED, BLUE, BLACK, GREEN = "#ff0000", "#0000ff", "#000000", "#11ee11"
FONT = "Liberation Serif"
W, H = 1104, 911

fig = go.Figure()

fig.add_trace(go.Scatter(
    x=bfield_time, y=bfield_gauss, mode="markers", xaxis="x", yaxis="y",
    marker=dict(symbol="cross-thin-open", size=4, color=RED, line=dict(width=1.1, color=RED)),
    showlegend=False, hoverinfo="skip"))

series = [
    (inlet_water, inlet_extra_time, inlet_extra_temp, GREEN, "circle-open", 6),
    (coil, coil_extra_time, coil_extra_temp, BLACK, "square", 5),
    (core, core_extra_time, core_extra_temp, BLUE, "circle", 5),
    (outlet_water, outlet_extra_time, outlet_extra_temp, RED, "circle", 5),
]
for vals, xt, xv, col, sym, sz in series:
    mk = dict(symbol=sym, size=sz, color=col, line=dict(width=2 if "open" in sym else 0, color=col))
    ghost = dict(symbol=sym, size=sz - 2, color=col, line=dict(width=1.3 if "open" in sym else 0, color=col))
    fig.add_trace(go.Scatter(x=xt, y=xv, mode="markers", xaxis="x2", yaxis="y2",
                             marker=ghost, showlegend=False, hoverinfo="skip"))
    fig.add_trace(go.Scatter(x=temp_time, y=vals, mode="markers", xaxis="x2", yaxis="y2",
                             marker=mk, showlegend=False, hoverinfo="skip"))

# legend markers inside the lower pad
legend_style = [
    dict(symbol="circle", size=15, color=RED),
    dict(symbol="asterisk-open", size=18, color=BLUE, line=dict(width=1.2, color=BLUE)),
    dict(symbol="square", size=13, color=BLACK),
    dict(symbol="circle-open", size=15, color=GREEN, line=dict(width=1.3, color=GREEN)),
]
for i in range(4):
    fig.add_trace(go.Scatter(x=[legend_x[i]], y=[legend_y[i]], mode="markers",
                             xaxis="x2", yaxis="y2", marker=legend_style[i],
                             showlegend=False, hoverinfo="skip"))

annotations = []
for i in range(4):
    annotations.append(dict(x=legend_x[i] + 0.29, y=legend_y[i], xref="x2", yref="y2",
                            text=legend_labels[i], showarrow=False, xanchor="left",
                            yanchor="middle", font=dict(family=FONT, size=41, color="black")))

annotations += [
    dict(x=547 / W, y=1 - 31 / H, xref="paper", yref="paper", text="HC-128-1 , Fills 4802-4803",
         showarrow=False, xanchor="center", yanchor="middle",
         font=dict(family=FONT, size=50, color="black")),
    dict(x=1101 / W, y=1 - 451 / H, xref="paper", yref="paper", text="Time (h)",
         showarrow=False, xanchor="right", yanchor="middle",
         font=dict(family=FONT, size=40, color="black")),
    dict(x=1101 / W, y=1 - 896 / H, xref="paper", yref="paper", text="Time (h)",
         showarrow=False, xanchor="right", yanchor="middle",
         font=dict(family=FONT, size=40, color="black")),
    dict(x=31 / W, y=1 - 141 / H, xref="paper", yref="paper", text="B-Field(G)",
         showarrow=False, textangle=-90, xanchor="center", yanchor="middle",
         font=dict(family=FONT, size=38, color="black")),
    dict(x=36 / W, y=1 - 629 / H, xref="paper", yref="paper", text="Temperature (<sup>0</sup>C)",
         showarrow=False, textangle=-90, xanchor="center", yanchor="middle",
         font=dict(family=FONT, size=36, color="black")),
]

AX = "#222222"
tickfont = dict(family=FONT, size=24, color="black")


def xaxis_cfg(anchor):
    return dict(domain=[152 / W, 1102 / W], range=[0, 10.44], anchor=anchor,
                showline=True, linecolor=AX, linewidth=1.5, mirror="ticks",
                ticks="inside", ticklen=13, tickwidth=1.3, tickcolor=AX,
                tick0=0, dtick=2, showgrid=False, zeroline=False,
                minor=dict(ticks="inside", ticklen=7, tickwidth=1, tickcolor=AX, dtick=0.5, tick0=0),
                tickfont=tickfont, ticklabelstandoff=7)


fig.update_layout(
    width=W, height=H, margin=dict(l=0, r=0, t=0, b=0),
    paper_bgcolor="white", plot_bgcolor="white",
    xaxis=xaxis_cfg("y"),
    xaxis2=xaxis_cfg("y2"),
    yaxis=dict(domain=[1 - 383 / H, 1 - 62 / H], range=[2029.14, 2029.26], anchor="x",
               showline=True, linecolor=AX, linewidth=1.5, mirror="ticks",
               ticks="inside", ticklen=16, tickwidth=1.3, tickcolor=AX,
               tick0=2029.14, dtick=0.02, tickformat=".6~g", showgrid=False, zeroline=False,
               minor=dict(ticks="inside", ticklen=8, tickwidth=1, tickcolor=AX, dtick=0.02 / 3, tick0=2029.14),
               tickfont=tickfont, ticklabelstandoff=20),
    yaxis2=dict(domain=[1 - 831 / H, 1 - 510 / H], range=[20.2, 35.37], anchor="x2",
                showline=True, linecolor=AX, linewidth=1.5, mirror="ticks",
                ticks="inside", ticklen=16, tickwidth=1.3, tickcolor=AX,
                tick0=0, dtick=2, showgrid=False, zeroline=False,
                minor=dict(ticks="inside", ticklen=8, tickwidth=1, tickcolor=AX, dtick=0.5, tick0=0),
                tickfont=tickfont, ticklabelstandoff=20),
    annotations=annotations,
    showlegend=False,
)

fig.write_html("out.html")
